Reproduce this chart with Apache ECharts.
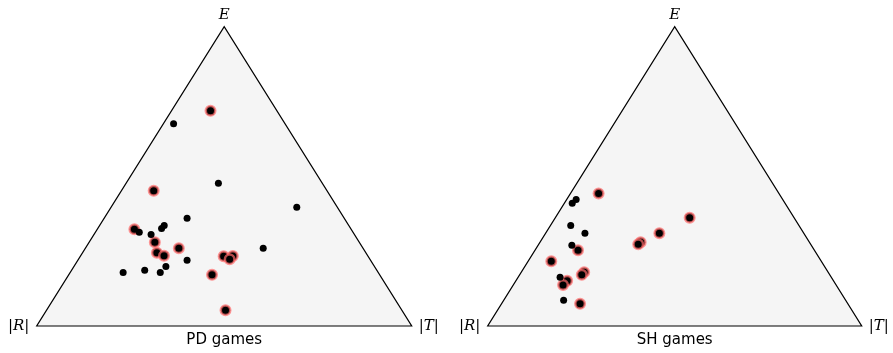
<!DOCTYPE html>
<html>
<head>
<meta charset="utf-8">
<script src="https://cdn.jsdelivr.net/npm/echarts@6/dist/echarts.min.js"></script>
<style>
  html, body { margin: 0; padding: 0; background: #fff; }
  #chart { width: 893px; height: 353px; }
</style>
</head>
<body>
<div id="chart"></div>
<script>
// ternary points as [T share, E share]; R share = 1 - T - E
const pdMarked = [
  [0.104, 0.719], [0.086, 0.452], [0.099, 0.323], [0.175, 0.280],
  [0.249, 0.260], [0.198, 0.245], [0.222, 0.235], [0.382, 0.233],
  [0.406, 0.234], [0.403, 0.223], [0.382, 0.171], [0.477, 0.053]
];
const pdPlain = [
  [0.027, 0.676], [0.246, 0.477], [0.495, 0.397], [0.221, 0.360],
  [0.172, 0.336], [0.170, 0.326], [0.117, 0.313], [0.152, 0.306],
  [0.474, 0.260], [0.291, 0.220], [0.245, 0.199], [0.141, 0.179],
  [0.195, 0.186], [0.240, 0.179]
];
const shMarked = [
  [0.075, 0.443], [0.359, 0.362], [0.304, 0.310], [0.269, 0.280],
  [0.266, 0.273], [0.115, 0.253], [0.062, 0.216], [0.168, 0.180],
  [0.166, 0.171], [0.137, 0.151], [0.133, 0.137], [0.210, 0.074]
];
const shPlain = [
  [0.025, 0.423], [0.021, 0.410], [0.054, 0.336], [0.105, 0.310],
  [0.090, 0.270], [0.112, 0.163], [0.160, 0.086]
];
const corners = [[0, 0], [1, 0], [0, 1]]; // R, T, E
const titles = ['PD games', 'SH games'];

function toXY(p) {
  return [p[0] + p[1] / 2, p[1]];
}

const chart = echarts.init(document.getElementById('chart'));

function triangle(idx) {
  return {
    type: 'custom',
    xAxisIndex: idx,
    yAxisIndex: idx,
    silent: true,
    z: 1,
    data: [0],
    renderItem: function (params, api) {
      const pts = corners.map(function (c) { return api.coord(toXY(c)); });
      const r = pts[0], t = pts[1], e = pts[2];
      const mathFont = 'italic 15px "DejaVu Serif"';
      return {
        type: 'group',
        children: [
          {
            type: 'polygon',
            shape: { points: pts },
            style: { fill: '#f5f5f5', stroke: '#000', lineWidth: 1.2 }
          },
          {
            type: 'text',
            x: e[0], y: e[1] - 12,
            style: { text: 'E', font: mathFont, fill: '#000', align: 'center', verticalAlign: 'middle' }
          },
          {
            type: 'text',
            x: r[0] - 18, y: r[1],
            style: { text: '|R|', font: mathFont, fill: '#000', align: 'center', verticalAlign: 'middle' }
          },
          {
            type: 'text',
            x: t[0] + 17, y: t[1],
            style: { text: '|T|', font: mathFont, fill: '#000', align: 'center', verticalAlign: 'middle' }
          },
          {
            type: 'text',
            x: (r[0] + t[0]) / 2, y: r[1] + 14,
            style: { text: titles[idx], font: '15px "DejaVu Sans"', fill: '#000', align: 'center', verticalAlign: 'middle' }
          }
        ]
      };
    }
  };
}

function dots(idx, list, marked) {
  return {
    type: 'scatter',
    xAxisIndex: idx,
    yAxisIndex: idx,
    z: marked ? 2 : 3,
    data: list.map(toXY),
    symbolSize: marked ? 9.5 : 7,
    itemStyle: marked
      ? { color: '#000', opacity: 1, borderColor: 'rgba(255,105,105,0.7)', borderWidth: 2.5 }
      : { color: '#000', opacity: 1 },
    emphasis: { disabled: true }
  };
}

const axisBase = { min: 0, max: 1, show: false };

chart.setOption({
  animation: false,
  grid: [
    { left: 36.7, top: 26.7, width: 375, height: 299.3 },
    { left: 487.7, top: 26.7, width: 374, height: 299.3 }
  ],
  xAxis: [
    Object.assign({ type: 'value', gridIndex: 0 }, axisBase),
    Object.assign({ type: 'value', gridIndex: 1 }, axisBase)
  ],
  yAxis: [
    Object.assign({ type: 'value', gridIndex: 0 }, axisBase),
    Object.assign({ type: 'value', gridIndex: 1 }, axisBase)
  ],
  series: [
    triangle(0),
    triangle(1),
    dots(0, pdMarked, true),
    dots(0, pdPlain, false),
    dots(1, shMarked, true),
    dots(1, shPlain, false)
  ]
});
</script>
</body>
</html>
